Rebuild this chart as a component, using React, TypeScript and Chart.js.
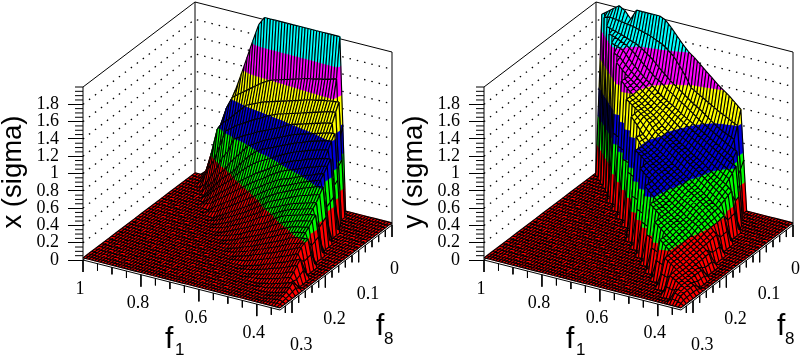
import React, { useEffect, useRef } from "react";
import { Chart, registerables } from "chart.js";

Chart.register(...registerables);

// ---- data ----
const f1Nodes = [1, 0.98, 0.96, 0.94, 0.92, 0.9, 0.88, 0.86, 0.84, 0.82, 0.8, 0.78, 0.76, 0.74, 0.72, 0.7, 0.68, 0.66, 0.64, 0.62, 0.6, 0.58, 0.56, 0.54, 0.52, 0.5, 0.48, 0.46, 0.44, 0.42, 0.4, 0.38, 0.36, 0.34, 0.32];
const f8Nodes = [0, 0.01, 0.02, 0.03, 0.04, 0.05, 0.06, 0.08, 0.1, 0.12, 0.14, 0.16, 0.18, 0.2, 0.22, 0.24, 0.26, 0.28, 0.3, 0.32, 0.336];
const zTicks = [0, 0.2, 0.4, 0.6, 0.8, 1, 1.2, 1.4, 1.6, 1.8];
const f1Ticks = [1, 0.8, 0.6, 0.4];
const f8Ticks = [0, 0.1, 0.2, 0.3];
const levelEdges = [0, 0.333, 0.667, 1, 1.333, 1.667, 2.01];
const levelColors = ["#ff0000", "#00ff00", "#0000dc", "#ffff00", "#ff00ff", "#00ffff"];

// each row: [index of first non-zero f1 node, heights...] – everything else is 0
const sigmaXRows = [
  [2, 0.06, 0.26, 0.47, 0.67, 0.87, 1.08, 1.28, 1.49, 1.7, 1.9, 2, 2, 2, 2, 2, 2, 2, 2, 2, 2, 2, 2, 2, 2],
  [3, 0.2, 0.43, 0.67, 0.88, 1.02, 1.07, 1.12, 1.17, 1.22, 1.27, 1.31, 1.34, 1.36, 1.38, 1.4, 1.42, 1.44, 1.46, 1.47, 1.49, 1.5, 1.52, 1.54],
  [3, 0.12, 0.36, 0.65, 0.74, 0.8, 0.87, 0.94, 1.01, 1.04, 1.07, 1.1, 1.12, 1.14, 1.16, 1.18, 1.2, 1.22, 1.24, 1.26, 1.27, 1.29, 1.3, 1.31, 1.32],
  [3, 0.05, 0.2, 0.32, 0.5, 0.69, 0.74, 0.79, 0.83, 0.87, 0.91, 0.94, 0.98, 1.01, 1.04, 1.06, 1.08, 1.1, 1.12, 1.14, 1.16, 1.18, 1.2, 1.22, 1.23],
  [4, 0.05, 0.16, 0.27, 0.41, 0.5, 0.66, 0.7, 0.74, 0.77, 0.81, 0.84, 0.87, 0.9, 0.93, 0.97, 1, 1.02, 1.04, 1.06, 1.08, 1.1, 1.12, 1.13],
  [5, 0.07, 0.15, 0.25, 0.32, 0.42, 0.5, 0.58, 0.66, 0.7, 0.74, 0.78, 0.81, 0.84, 0.87, 0.9, 0.93, 0.95, 0.97, 0.99, 1.01, 1.03, 1.05, 1.06],
  [6, 0.08, 0.16, 0.24, 0.3, 0.36, 0.45, 0.53, 0.6, 0.66, 0.7, 0.73, 0.76, 0.79, 0.82, 0.85, 0.88, 0.9, 0.93, 0.95, 0.97, 0.99, 1],
  [7, 0.05, 0.1, 0.16, 0.21, 0.27, 0.33, 0.38, 0.43, 0.48, 0.52, 0.56, 0.61, 0.65, 0.69, 0.72, 0.75, 0.77, 0.8, 0.82, 0.84, 0.86, 0.87],
  [9, 0.05, 0.09, 0.14, 0.18, 0.23, 0.28, 0.33, 0.38, 0.42, 0.47, 0.51, 0.55, 0.58, 0.6, 0.63, 0.66, 0.69, 0.71, 0.74, 0.76],
  [11, 0.04, 0.08, 0.12, 0.16, 0.2, 0.24, 0.29, 0.34, 0.39, 0.43, 0.47, 0.5, 0.53, 0.56, 0.59, 0.62, 0.64, 0.67, 0.68],
  [12, 0.02, 0.05, 0.08, 0.12, 0.15, 0.19, 0.23, 0.27, 0.33, 0.36, 0.39, 0.42, 0.45, 0.48, 0.5, 0.52, 0.54, 0.56],
  [14, 0.02, 0.05, 0.08, 0.11, 0.14, 0.18, 0.21, 0.24, 0.28, 0.33, 0.37, 0.4, 0.42, 0.44, 0.46, 0.48, 0.49],
  [16, 0.02, 0.04, 0.07, 0.1, 0.13, 0.16, 0.19, 0.23, 0.26, 0.3, 0.33, 0.36, 0.38, 0.39, 0.41],
  [18, 0.02, 0.04, 0.07, 0.09, 0.12, 0.15, 0.18, 0.21, 0.24, 0.27, 0.31, 0.33, 0.34, 0.35],
  [20, 0.02, 0.04, 0.06, 0.09, 0.11, 0.14, 0.16, 0.19, 0.22, 0.25, 0.28, 0.31],
  [23, 0.02, 0.04, 0.06, 0.09, 0.11, 0.14, 0.16, 0.19, 0.22, 0.25],
  [25, 0.02, 0.03, 0.05, 0.07, 0.09, 0.11, 0.14, 0.16],
  [28, 0.02, 0.03, 0.05, 0.07, 0.09, 0.11],
  [30, 0.01, 0.02, 0.04, 0.06],
  [31, 0.01, 0.02, 0.03],
  [0],
];

const sigmaYRows = [
  [1, 1.85, 1.9, 1.95, 2, 1.96, 1.88, 2, 2, 2, 2, 2, 1.97, 1.9, 1.82, 1.74, 1.67, 1.62, 1.56, 1.5, 1.44, 1.38, 1.33, 1.28, 1.22, 1.16],
  [2, 1.86, 1.88, 1.87, 1.86, 1.85, 1.84, 1.82, 1.8, 1.78, 1.75, 1.72, 1.67, 1.61, 1.52, 1.42, 1.3, 1.26, 1.22, 1.18, 1.14, 1.1, 1.07, 1.03, 1],
  [3, 1.8, 1.78, 1.76, 1.74, 1.71, 1.69, 1.65, 1.6, 1.55, 1.48, 1.42, 1.36, 1.31, 1.26, 1.21, 1.16, 1.12, 1.07, 1.02, 0.97, 0.93, 0.9, 0.87],
  [4, 1.76, 1.74, 1.71, 1.68, 1.63, 1.57, 1.51, 1.45, 1.39, 1.35, 1.29, 1.25, 1.2, 1.16, 1.11, 1.06, 1.01, 0.97, 0.93, 0.89, 0.85, 0.81, 0.78],
  [5, 1.7, 1.68, 1.65, 1.57, 1.5, 1.44, 1.38, 1.33, 1.27, 1.22, 1.18, 1.14, 1.09, 1.05, 1.01, 0.97, 0.93, 0.89, 0.85, 0.81, 0.77, 0.73],
  [6, 1.63, 1.6, 1.53, 1.47, 1.41, 1.36, 1.31, 1.26, 1.21, 1.17, 1.12, 1.08, 1.03, 0.99, 0.95, 0.91, 0.87, 0.83, 0.79, 0.75, 0.71, 0.68],
  [7, 1.57, 1.5, 1.44, 1.39, 1.34, 1.29, 1.24, 1.19, 1.15, 1.1, 1.05, 1, 0.96, 0.92, 0.88, 0.84, 0.79, 0.75, 0.71, 0.67, 0.63],
  [9, 1.45, 1.38, 1.32, 1.27, 1.22, 1.17, 1.12, 1.05, 1, 0.96, 0.91, 0.87, 0.82, 0.78, 0.74, 0.69, 0.64, 0.6, 0.56, 0.5],
  [11, 1.33, 1.28, 1.23, 1.18, 1.12, 1.04, 0.99, 0.95, 0.9, 0.86, 0.81, 0.76, 0.72, 0.67, 0.62, 0.57, 0.52, 0.46],
  [13, 1.22, 1.14, 1.05, 0.99, 0.94, 0.9, 0.85, 0.8, 0.76, 0.71, 0.67, 0.62, 0.57, 0.52, 0.47, 0.42, 0.35],
  [15, 1.08, 0.98, 0.93, 0.88, 0.84, 0.79, 0.74, 0.7, 0.66, 0.61, 0.57, 0.52, 0.47, 0.41, 0.33],
  [16, 1, 0.95, 0.89, 0.84, 0.79, 0.73, 0.68, 0.63, 0.58, 0.54, 0.5, 0.45, 0.39, 0.33, 0.26],
  [18, 0.88, 0.82, 0.77, 0.71, 0.65, 0.6, 0.55, 0.51, 0.46, 0.42, 0.38, 0.31, 0.25],
  [20, 0.77, 0.7, 0.64, 0.59, 0.54, 0.49, 0.45, 0.4, 0.34, 0.29, 0.24, 0.18],
  [22, 0.66, 0.6, 0.54, 0.49, 0.44, 0.39, 0.33, 0.28, 0.23, 0.17],
  [24, 0.54, 0.48, 0.42, 0.37, 0.32, 0.27, 0.22, 0.17, 0.12],
  [26, 0.43, 0.37, 0.31, 0.26, 0.21, 0.16, 0.12],
  [28, 0.31, 0.26, 0.21, 0.16, 0.12, 0.08],
  [30, 0.2, 0.16, 0.12, 0.08],
  [32, 0.09, 0.07],
  [0],
];

// ---- view of the box (how the three axes are tilted on the page) ----
const F1_START = 1;
const F1_END = 0.32;
const F8_END = 0.336;
const Z_TOP = 2;
const PX_PER_Z = 86.5;
const AXIS_LEFT = 83;
const FLOOR_LIFT = 0.025;

const depth = (f1: number, f8: number) => {
  const u = (F1_START - f1) / (F1_START - F1_END);
  const w = f8 / F8_END;
  return { x: 112 + 197 * u - 112 * w, y: (85 - 50 * u - 85 * w) / PX_PER_Z };
};
const project = (f1: number, f8: number, z: number) => {
  const d = depth(f1, f8);
  return { x: d.x, y: d.y + z };
};
const GAP = { x: NaN, y: NaN };

function expandRows(rows: number[][]) {
  return rows.map((row) => {
    const out = f1Nodes.map(() => 0);
    row.slice(1).forEach((v, i) => {
      out[row[0] + i] = v;
    });
    return out;
  });
}

type V = { x: number; y: number; z: number };
const mix = (a: V, b: V, t: number): V => ({
  x: a.x + (b.x - a.x) * t,
  y: a.y + (b.y - a.y) * t,
  z: a.z + (b.z - a.z) * t,
});
function clipAbove(poly: V[], lim: number, keepAbove: boolean) {
  const out: V[] = [];
  const inside = (p: V) => (keepAbove ? p.z >= lim : p.z <= lim);
  poly.forEach((p, i) => {
    const q = poly[(i + 1) % poly.length];
    if (inside(p)) out.push(p);
    if (inside(p) !== inside(q)) out.push(mix(p, q, (lim - p.z) / (q.z - p.z)));
  });
  return out;
}

const surfacePlugin = {
  id: "surface",
  afterDatasetsDraw(chart: any, _a: any, opts: any) {
    const { ctx } = chart;
    const heights: number[][] = opts.heights;
    const pts = chart.getDatasetMeta(0).data;
    const nc = f1Nodes.length;
    const node = (r: number, c: number): V => {
      const e = pts[r * nc + c];
      return { x: e.x, y: e.y, z: heights[r][c] };
    };
    ctx.save();
    ctx.lineJoin = "round";
    for (let r = 0; r < f8Nodes.length - 1; r++) {
      const subR = f8Nodes[r + 1] - f8Nodes[r] > 0.012 ? 2 : 1;
      for (let c = 0; c < nc - 1; c++) {
        const a = node(r, c);
        const b = node(r, c + 1);
        const d = node(r + 1, c);
        const e = node(r + 1, c + 1);
        const quad = [a, b, e, d];
        levelColors.forEach((col, li) => {
          let poly = clipAbove(quad, levelEdges[li], true);
          if (poly.length) poly = clipAbove(poly, levelEdges[li + 1], false);
          if (poly.length < 3) return;
          ctx.beginPath();
          poly.forEach((p, i) => (i ? ctx.lineTo(p.x, p.y) : ctx.moveTo(p.x, p.y)));
          ctx.closePath();
          ctx.fillStyle = col;
          ctx.strokeStyle = col;
          ctx.lineWidth = 0.6;
          ctx.fill();
          ctx.stroke();
        });
        // cell mesh (half-steps of the table, as dense as the original drawing)
        ctx.strokeStyle = "#000";
        ctx.lineWidth = 1.15;
        ctx.beginPath();
        for (let s = 0; s <= 2; s++) {
          const t = s / 2;
          const p = mix(a, b, t);
          const q = mix(d, e, t);
          ctx.moveTo(p.x, p.y);
          ctx.lineTo(q.x, q.y);
        }
        for (let s = 0; s <= subR; s++) {
          const t = s / subR;
          const p = mix(a, d, t);
          const q = mix(b, e, t);
          ctx.moveTo(p.x, p.y);
          ctx.lineTo(q.x, q.y);
        }
        ctx.stroke();
      }
    }
    ctx.restore();

    // text set along the slanted axes
    const xs = chart.scales.x;
    const ys = chart.scales.y;
    const at = (p: { x: number; y: number }) => ({ x: xs.getPixelForValue(p.x), y: ys.getPixelForValue(p.y) });
    ctx.save();
    ctx.fillStyle = "#000";
    ctx.textBaseline = "middle";
    ctx.font = "18px 'Liberation Serif'";
    ctx.textAlign = "center";
    f1Ticks.forEach((t) => {
      const p = at(project(t, F8_END, 0));
      ctx.fillText(String(t), p.x - 3, p.y + 29);
    });
    ctx.textAlign = "left";
    f8Ticks.forEach((t) => {
      const p = at(project(F1_END, t, 0));
      ctx.fillText(String(t), p.x - 2, p.y + 44);
    });
    ctx.textBaseline = "alphabetic";
    ctx.font = "30px 'Liberation Sans'";
    ctx.fillText("f", 165, 348);
    ctx.fillText("f", 376, 335);
    ctx.font = "17px 'Liberation Sans'";
    ctx.fillText("1", 175, 355);
    ctx.fillText("8", 384, 344);
    ctx.font = "27.5px 'Liberation Sans'";
    ctx.textAlign = "center";
    ctx.translate(21, 172);
    ctx.rotate(-Math.PI / 2);
    ctx.fillText(opts.title, 0, 0);
    ctx.restore();
  },
};

function Panel({ rows, title, left }: { rows: number[][]; title: string; left: number }) {
  const ref = useRef<HTMLCanvasElement>(null);
  useEffect(() => {
    const heights = expandRows(rows);
    const nodes: { x: number; y: number }[] = [];
    f8Nodes.forEach((f8, r) =>
      f1Nodes.forEach((f1, c) => nodes.push(project(f1, f8, heights[r][c] + FLOOR_LIFT)))
    );

    const solid: { x: number; y: number }[] = [];
    const seg = (p: { x: number; y: number }, q: { x: number; y: number }) => solid.push(p, q, GAP);
    // box outline
    seg(project(F1_START, F8_END, 0), project(F1_START, F8_END, Z_TOP));
    seg(project(F1_START, 0, 0), project(F1_START, 0, Z_TOP));
    seg(project(F1_END, 0, 0), project(F1_END, 0, Z_TOP));
    seg(project(F1_START, F8_END, Z_TOP), project(F1_START, 0, Z_TOP));
    seg(project(F1_START, 0, Z_TOP), project(F1_END, 0, Z_TOP));
    seg(project(F1_START, F8_END, 0), project(F1_START, 0, 0));
    seg(project(F1_START, 0, 0), project(F1_END, 0, 0));
    seg(project(F1_START, F8_END, 0), project(F1_END, F8_END, 0));
    seg(project(F1_END, F8_END, 0), project(F1_END, 0, 0));
    // slanted-axis ticks: major every 0.2 / 0.1, minor every 0.05 / 0.02
    for (let i = 0; 1 - i * 0.05 >= F1_END; i++) {
      const p = project(1 - i * 0.05, F8_END, 0);
      seg(p, { x: p.x, y: p.y - (i % 4 === 0 ? 12 : 7) / PX_PER_Z });
    }
    for (let i = 0; i * 0.02 <= F8_END; i++) {
      const p = project(F1_END, i * 0.02, 0);
      seg(p, { x: p.x, y: p.y - (i % 5 === 0 ? 12 : 7) / PX_PER_Z });
    }
    // minor ticks of the height axis
    for (let i = 1; i <= 40; i++) {
      if (i % 4 === 0 && i < 40) continue;
      const p = project(F1_START, F8_END, i * 0.05);
      seg(p, { x: p.x - 8, y: p.y });
    }

    const dotted: { x: number; y: number }[] = [];
    zTicks.slice(1).forEach((z) => {
      dotted.push(project(F1_START, F8_END, z), project(F1_START, 0, z), project(F1_END, 0, z), GAP);
    });

    const chart = new Chart(ref.current!, {
      type: "scatter",
      data: {
        datasets: [
          { data: nodes, pointRadius: 0, showLine: false, clip: false } as any,
          { data: solid, pointRadius: 0, showLine: true, borderColor: "#000", borderWidth: 1, spanGaps: false, clip: false, tension: 0 } as any,
          { data: dotted, pointRadius: 0, showLine: true, borderColor: "#000", borderWidth: 1.3, borderDash: [1.5, 6], spanGaps: false, clip: false, tension: 0 } as any,
        ],
      },
      options: {
        responsive: false,
        animation: false,
        events: [],
        layout: { padding: 0 },
        scales: {
          x: { type: "linear", display: false, min: 0, max: 400 - AXIS_LEFT },
          y: {
            type: "linear",
            min: -(356 - 260) / PX_PER_Z,
            max: 260 / PX_PER_Z,
            afterFit: (s: any) => {
              s.width = AXIS_LEFT;
              s.paddingTop = 0;
              s.paddingBottom = 0;
            },
            afterBuildTicks: (s: any) => {
              s.ticks = zTicks.map((value) => ({ value }));
            },
            border: { display: false },
            grid: { drawOnChartArea: false, drawTicks: true, tickLength: 15, tickColor: "#000", tickWidth: 1 },
            ticks: {
              autoSkip: false,
              padding: 9,
              color: "#000",
              font: { family: "'Liberation Serif'", size: 18 },
              callback: (v: any) => String(v),
            },
          },
        },
        plugins: { legend: { display: false }, tooltip: { enabled: false }, surface: { heights, title } },
      } as any,
      plugins: [surfacePlugin as any],
    });
    return () => chart.destroy();
  }, [rows, title]);
  return <canvas ref={ref} width={400} height={356} style={{ position: "absolute", left, top: 0, width: 400, height: 356 }} />;
}

export default function App() {
  return (
    <div style={{ position: "fixed", left: 0, top: 0, width: 800, height: 356, overflow: "hidden", background: "#fff" }}>
      <Panel rows={sigmaXRows} title="x (sigma)" left={0} />
      <Panel rows={sigmaYRows} title="y (sigma)" left={401} />
    </div>
  );
}
